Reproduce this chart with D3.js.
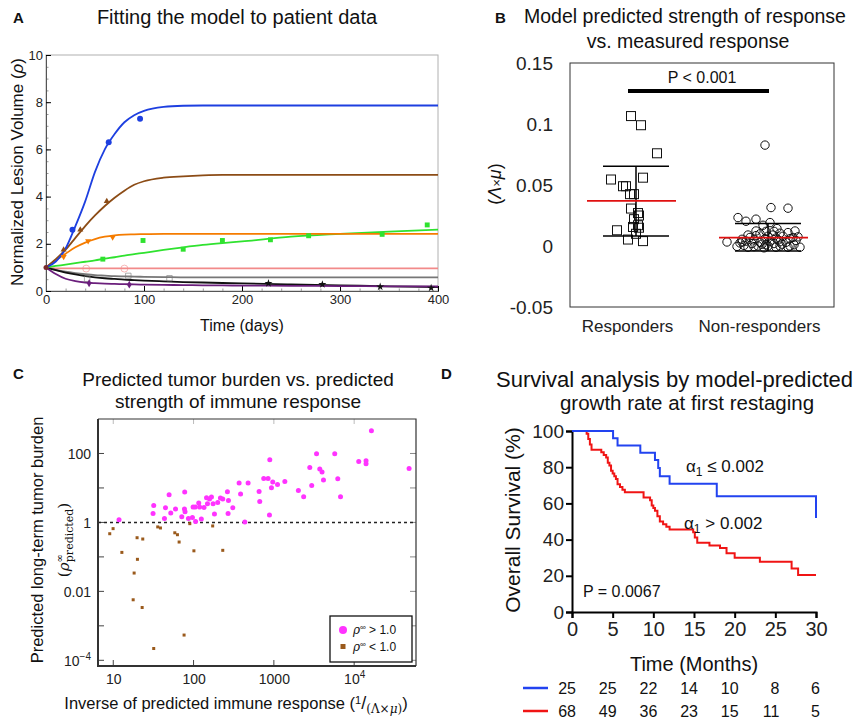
<!DOCTYPE html>
<html>
<head>
<meta charset="utf-8">
<title>Model fit figure</title>
<style>
  body { margin: 0; background: #fff; }
  svg { font-family: "Liberation Sans", Arial, sans-serif; }
  .tick text { fill: #222; }
</style>
</head>
<body>
<script src="https://d3js.org/d3.v7.min.js"></script>
<script>
'use strict';

// ---------- A: fits and patient data ----------
const days = [0, 10, 20, 30, 40, 50, 60, 70, 80, 90, 100, 120, 140, 160, 180, 200, 250, 300, 350, 400];
const fitBlue   = [1, 1.25, 1.8, 2.75, 3.8, 5.05, 6.0, 6.65, 7.15, 7.45, 7.63, 7.8, 7.85, 7.86, 7.86, 7.86, 7.86, 7.86, 7.86, 7.86];
const fitBrown  = [1, 1.35, 1.75, 2.25, 2.75, 3.2, 3.6, 3.95, 4.25, 4.5, 4.65, 4.8, 4.86, 4.9, 4.92, 4.92, 4.92, 4.92, 4.92, 4.92];
const fitOrange = [1, 1.3, 1.58, 1.85, 2.05, 2.2, 2.3, 2.36, 2.39, 2.4, 2.41, 2.42, 2.42, 2.42, 2.42, 2.42, 2.42, 2.42, 2.42, 2.42];
const fitGreen  = [1, 1.06, 1.12, 1.18, 1.24, 1.3, 1.37, 1.43, 1.5, 1.56, 1.62, 1.74, 1.85, 1.95, 2.03, 2.1, 2.3, 2.42, 2.52, 2.6];
const fitPink   = [1, 0.96, 0.96, 0.96, 0.96, 0.96, 0.96, 0.96, 0.96, 0.96, 0.96, 0.96, 0.96, 0.96, 0.96, 0.96, 0.96, 0.96, 0.96, 0.96];
const fitGray   = [1, 0.9, 0.82, 0.76, 0.71, 0.67, 0.65, 0.63, 0.62, 0.61, 0.6, 0.59, 0.58, 0.58, 0.58, 0.58, 0.58, 0.58, 0.58, 0.58];
const fitBlack  = [1, 0.88, 0.78, 0.7, 0.63, 0.58, 0.54, 0.51, 0.48, 0.46, 0.44, 0.41, 0.38, 0.36, 0.34, 0.32, 0.28, 0.24, 0.2, 0.17];
const fitPurple = [1, 0.72, 0.52, 0.42, 0.36, 0.33, 0.31, 0.3, 0.29, 0.28, 0.27, 0.26, 0.25, 0.24, 0.235, 0.23, 0.22, 0.21, 0.2, 0.19];

const ptsBlue   = [[27, 2.6], [64, 6.3], [96, 7.3]];
const ptsBrown  = [[18, 1.75], [35, 2.6], [62, 3.8]];
const ptsOrange = [[18, 1.45], [43, 2.12], [68, 2.28]];
const ptsGreen  = [[58, 1.35], [99, 2.14], [140, 1.77], [180, 2.14], [229, 2.17], [268, 2.34], [343, 2.4], [389, 2.8]];
const ptsPink   = [[41, 0.95], [80, 0.95]];
const ptsGray   = [[42, 0.52], [84, 0.64], [126, 0.54]];
const ptsBlack  = [[227, 0.33], [282, 0.28], [341, 0.18], [393, 0.13]];
const ptsPurple = [[44, 0.33], [85, 0.27]];

const ticksDays = [0, 100, 200, 300, 400];
const ticksVolume = [0, 2, 4, 6, 8, 10];

// ---------- B: strength of response ----------
const groupsB = ['Responders', 'Non-responders'];
const respValues = [0.1065, 0.099, 0.076, 0.0545, 0.056, 0.049, 0.049, 0.0425, 0.0425, 0.0307,
  0.027, 0.025, 0.022, 0.017, 0.0156, 0.015, 0.0129, 0.010, 0.0053, 0.004];
const respJitter = [-5, 5, 21, -25, 7, -13, -10, -6, -2, -5, 2, 3, -2, 2, -3, 3, -19, 0, -8, 7];
const nonValues = [0.0827, 0.0315, 0.031, 0.0233, 0.0203, 0.022, 0.0192, 0.017, 0.0143, 0.0123,
  0.0123, 0.0033, -0.0003, 0.0033, 0.010, 0.009, 0.008, 0.007, 0.006, 0.006,
  0.005, 0.005, 0.004, 0.004, 0.003, 0.003, 0.002, 0.002, 0.001, 0.001,
  0.0005, 0.0, 0.0, 0.0, -0.001, -0.001, -0.001, -0.0015, 0.011, 0.012,
  0.009, 0.007, 0.0085, 0.0065, 0.0045, 0.0025, 0.0015, -0.0005, 0.0105, 0.008,
  0.0035, 0.0015, 0.0055, -0.001, 0.012, 0.0075, 0.0];
const nonJitter = [-3, 3, 20, -30, -22, -12, 2, -5, 9, 27,
  -12, -41, -31, -26, -8, 5, 15, -18, -3, 22,
  -14, 10, -22, 2, -8, 18, -16, 6, -2, 26,
  -24, -10, 12, 0, -20, 8, 20, -4, 20, -2,
  -20, 25, -12, 8, 28, -28, 14, -14, 12, 0,
  12, -6, -26, 32, 6, 30, 22];
const meanB = [0.037, 0.0069];
const sdLowB = [0.0082, -0.004];
const sdHighB = [0.0654, 0.0184];
const ticksB = [-0.05, 0, 0.05, 0.1, 0.15];
const pBarLevel = 0.127;

// ---------- C: tumour burden vs immune response ----------
const aboveOne = [[11.8, 1.2], [31.9, 3.1], [31.3, 1.8], [44.7, 2.67], [49.6, 6.35], [43.4, 1.3], [52, 1.87],
  [59.6, 2.44], [77.6, 7.6], [77, 2.44], [78.3, 2.04], [71.3, 1.46], [86.3, 1.3], [96.8, 1.4], [98.6, 2.8],
  [106, 1.07], [116, 3.65], [105, 2.8], [119, 2.8], [125, 1.26], [135, 2.72], [145, 5.2], [149, 3.5],
  [158, 4.77], [167, 5.45], [175, 3.5], [182, 1.75], [200, 3.8], [216, 5.1], [231, 4.77], [264, 7.75],
  [272, 4.35], [269, 1.8], [308, 2.67], [369, 13.9], [385, 6.65], [435, 1.02], [478, 13.9], [655, 7.9],
  [667, 4.06], [16400, 455], [3400, 98], [5730, 98], [890, 65.6], [11400, 58.6], [14060, 61.4],
  [14060, 50.3], [48300, 36.7], [2800, 39.3], [3730, 35.3], [3980, 28.9], [4150, 16.9], [2960, 11.8],
  [6250, 18.5], [6760, 5.56], [2020, 8.47], [2350, 5.56], [1370, 15.4], [1110, 12.6], [968, 14.8],
  [933, 10.1], [881, 1.64], [847, 18.8], [748, 18.8]];
const belowOne = [[9.04, 0.47], [9.95, 0.66], [12.8, 0.135], [19.8, 0.36], [23.3, 0.33], [20, 0.085],
  [35.8, 0.74], [38.7, 0.69], [58.4, 0.5], [63, 0.44], [66.1, 0.27], [89.8, 0.92], [101, 0.15],
  [173, 0.79], [231, 0.155], [18.2, 0.034], [17.7, 0.0057], [22.9, 0.0034], [76.2, 5.4e-4], [31.9, 2.2e-4]];
const ticksCx = [10, 100, 1000, 10000];
const ticksCy = [1e-4, 0.01, 1, 100];

// ---------- D: Kaplan-Meier ----------
const kmBlueT = [0, 5.05, 5.6, 8.4, 10.2, 10.6, 10.8, 12.0, 17.8, 30];
const kmBlueS = [100, 96, 92, 88, 84, 79.5, 75, 70.8, 64, 52];
const kmRedT = [0, 1.8, 2.0, 2.2, 2.4, 3.6, 3.9, 4.2, 4.4, 4.6, 4.8, 5.0, 5.2, 5.4, 5.6, 5.9, 6.2, 6.5, 8.8, 9.6,
  9.8, 10.0, 10.2, 10.5, 10.8, 11.2, 11.6, 12.0, 14.9, 15.1, 15.4, 16.9, 18.2, 19.0, 20.0, 23.1, 27.0, 27.8, 30];
const kmRedS = [100, 98.5, 95.6, 92.6, 89.7, 88.2, 86.8, 85.3, 82.4, 80.9, 78.0, 76.5, 75.0, 73.5, 70.6, 69.1, 67.6, 66.2, 63.2, 61.8,
  58.8, 57.4, 55.9, 52.9, 50.0, 48.5, 47.1, 45.6, 44.1, 41.2, 38.2, 36.8, 35.3, 32.4, 30.0, 27.8, 24.0, 20.5, 20.5];
const riskTimes = [0, 5, 10, 15, 20, 25, 30];
const riskBlue = [25, 25, 22, 14, 10, 8, 6];
const riskRed = [68, 49, 36, 23, 15, 11, 5];
const ticksMonths = [0, 5, 10, 15, 20, 25, 30];
const ticksSurv = [0, 20, 40, 60, 80, 100];

const svg = d3.select('body').append('svg')
  .attr('width', 854).attr('height', 719);
svg.append('rect').attr('width', 854).attr('height', 719).attr('fill', '#fff');

function label(x, y, txt, size, opts) {
  opts = opts || {};
  return svg.append('text')
    .attr('x', x).attr('y', y)
    .attr('text-anchor', opts.anchor || 'middle')
    .attr('font-size', size)
    .attr('font-weight', opts.bold ? 'bold' : null)
    .attr('fill', '#111')
    .text(txt);
}

// ================= Panel A =================
const xA = d3.scaleLinear().domain([0, 400]).range([46, 438]);
const yA = d3.scaleLinear().domain([0, 10]).range([291, 55]);
const gA = svg.append('g');

gA.append('rect').attr('x', 46).attr('y', 55).attr('width', 392).attr('height', 236)
  .attr('fill', 'none').attr('stroke', '#b0b0b0');

gA.append('g').attr('transform', 'translate(0,291)')
  .call(d3.axisBottom(xA).tickValues(d3.range(0, 401, 20)).tickSize(-2.5).tickFormat(''))
  .call(g => g.selectAll('line').attr('stroke', '#999'));
gA.append('g').attr('transform', 'translate(46,0)')
  .call(d3.axisLeft(yA).tickValues(d3.range(0, 10.01, 0.5)).tickSize(-2.5).tickFormat(''))
  .call(g => g.selectAll('line').attr('stroke', '#999'));
gA.append('g').attr('transform', 'translate(0,291)')
  .call(d3.axisBottom(xA).tickValues(ticksDays).tickSize(-5).tickPadding(4))
  .call(g => g.selectAll('text').attr('font-size', 13).attr('font-family', null))
  .call(g => g.select('.domain').attr('stroke', '#555'));
gA.append('g').attr('transform', 'translate(46,0)')
  .call(d3.axisLeft(yA).tickValues(ticksVolume).tickSize(-5).tickPadding(3))
  .call(g => g.selectAll('text').attr('font-size', 13).attr('font-family', null))
  .call(g => g.select('.domain').attr('stroke', '#555'));

const patientsA = [
  { fit: fitPink,   pts: ptsPink,   color: '#f28a8a', sym: d3.symbolCircle,   size: 38, open: true },
  { fit: fitGray,   pts: ptsGray,   color: '#777',    sym: d3.symbolSquare,   size: 30, open: true },
  { fit: fitBlack,  pts: ptsBlack,  color: '#111',    sym: d3.symbolStar,     size: 20 },
  { fit: fitPurple, pts: ptsPurple, color: '#6b1f7c', sym: d3.symbolDiamond,  size: 18 },
  { fit: fitGreen,  pts: ptsGreen,  color: '#2fe22f', sym: d3.symbolSquare,   size: 24 },
  { fit: fitOrange, pts: ptsOrange, color: '#f57c00', sym: d3.symbolTriangle, size: 16, flip: true },
  { fit: fitBrown,  pts: ptsBrown,  color: '#8c4c16', sym: d3.symbolTriangle, size: 16 },
  { fit: fitBlue,   pts: ptsBlue,   color: '#1d3fe0', sym: d3.symbolCircle,   size: 28 }
];

const lineA = d3.line().x(d => xA(d[0])).y(d => yA(d[1])).curve(d3.curveMonotoneX);
patientsA.forEach(p => {
  gA.append('path')
    .datum(days.map((t, i) => [t, p.fit[i]]))
    .attr('d', lineA).attr('fill', 'none')
    .attr('stroke', p.color).attr('stroke-width', 1.8);
});
patientsA.forEach(p => {
  gA.selectAll(null).data(p.pts).enter().append('path')
    .attr('d', d3.symbol().type(p.sym).size(p.size))
    .attr('transform', d => 'translate(' + xA(d[0]) + ',' + yA(d[1]) + ')' + (p.flip ? ' rotate(180)' : ''))
    .attr('fill', p.open ? 'none' : p.color)
    .attr('stroke', p.open ? p.color : 'none')
    .attr('stroke-opacity', p.open ? 0.6 : 1);
});
gA.append('circle').attr('cx', xA(0)).attr('cy', yA(1)).attr('r', 2.5).attr('fill', '#7a2b2b');

label(13, 23, 'A', 15, { anchor: 'start', bold: true });
label(237, 24, 'Fitting the model to patient data', 20);
label(242, 331, 'Time (days)', 16);
const ylabA = svg.append('text').attr('transform', 'translate(23,172) rotate(-90)')
  .attr('text-anchor', 'middle').attr('font-size', 17).attr('fill', '#111');
ylabA.append('tspan').text('Normalized Lesion Volume (');
ylabA.append('tspan').attr('font-style', 'italic').text('ρ');
ylabA.append('tspan').text(')');

// ================= Panel B =================
const xB = d3.scalePoint().domain(groupsB).range([636, 768]);
const yB = d3.scaleLinear().domain([-0.05, 0.15]).range([307, 63]);
const gB = svg.append('g');

gB.append('rect').attr('x', 570).attr('y', 63).attr('width', 264).attr('height', 244)
  .attr('fill', 'none').attr('stroke', '#333').attr('stroke-width', 1);
gB.append('g').attr('transform', 'translate(570,0)')
  .call(d3.axisLeft(yB).tickValues(ticksB).tickSize(0).tickPadding(17)
    .tickFormat(d => d === 0 ? '0' : String(+d.toFixed(2))))
  .call(g => g.select('.domain').remove())
  .call(g => g.selectAll('text').attr('font-size', 19).attr('font-family', null));
gB.append('g').attr('transform', 'translate(-9,307)')
  .call(d3.axisBottom(xB).tickSize(0).tickPadding(13))
  .call(g => g.select('.domain').remove())
  .call(g => g.selectAll('text').attr('font-size', 17).attr('font-family', null));

// significance bar
gB.append('line').attr('x1', 628).attr('x2', 769).attr('y1', yB(pBarLevel)).attr('y2', yB(pBarLevel))
  .attr('stroke', '#000').attr('stroke-width', 4);
label(702, 83, 'P < 0.001', 16);

// points
gB.selectAll(null).data(respValues).enter().append('rect')
  .attr('x', (d, i) => xB('Responders') + respJitter[i] - 4.5)
  .attr('y', d => yB(d) - 4.5)
  .attr('width', 9).attr('height', 9)
  .attr('fill', 'none').attr('stroke', '#111').attr('stroke-width', 1);
gB.selectAll(null).data(nonValues).enter().append('circle')
  .attr('cx', (d, i) => xB('Non-responders') + nonJitter[i])
  .attr('cy', d => yB(d)).attr('r', 4.2)
  .attr('fill', 'none').attr('stroke', '#111').attr('stroke-width', 1);

// mean and SD bars
groupsB.forEach((gname, i) => {
  const cx = xB(gname);
  gB.append('line').attr('x1', cx).attr('x2', cx).attr('y1', yB(sdHighB[i])).attr('y2', yB(sdLowB[i]))
    .attr('stroke', '#000').attr('stroke-width', 1.5);
  [sdHighB[i], sdLowB[i]].forEach(v => {
    gB.append('line').attr('x1', cx - 33).attr('x2', cx + 33).attr('y1', yB(v)).attr('y2', yB(v))
      .attr('stroke', '#000').attr('stroke-width', 1.5);
  });
  gB.append('line').attr('x1', cx - 49).attr('x2', cx + 40).attr('y1', yB(meanB[i])).attr('y2', yB(meanB[i]))
    .attr('stroke', '#e01010').attr('stroke-width', 1.8);
});

label(495, 23, 'B', 15, { anchor: 'start', bold: true });
label(685, 23, 'Model predicted strength of response', 19.5);
label(688, 48, 'vs. measured response', 19.5);
const ylabB = svg.append('text').attr('transform', 'translate(501,184) rotate(-90)')
  .attr('text-anchor', 'middle').attr('font-size', 18).attr('fill', '#111');
ylabB.append('tspan').text('(');
ylabB.append('tspan').attr('font-style', 'italic').text('Λ');
ylabB.append('tspan').attr('font-size', 13).text('×');
ylabB.append('tspan').attr('font-style', 'italic').text('μ');
ylabB.append('tspan').text(')');

// ================= Panel C =================
const xC = d3.scaleLog().domain([Math.pow(10, 0.81), Math.pow(10, 4.77)]).range([98, 416]);
const yC = d3.scaleLog().domain([Math.pow(10, -4.165), 1000]).range([666, 419]);
const gC = svg.append('g');

const decadesX = [10, 100, 1000, 10000];
const decadesY = [1e-4, 1e-3, 0.01, 0.1, 1, 10, 100];
gC.selectAll(null).data(decadesY).enter().append('line')
  .attr('x1', 98).attr('x2', 104).attr('y1', d => yC(d)).attr('y2', d => yC(d)).attr('stroke', '#444');
gC.selectAll(null).data(decadesY).enter().append('line')
  .attr('x1', 416).attr('x2', 410).attr('y1', d => yC(d)).attr('y2', d => yC(d)).attr('stroke', '#888');
gC.selectAll(null).data(decadesX).enter().append('line')
  .attr('x1', d => xC(d)).attr('x2', d => xC(d)).attr('y1', 666).attr('y2', 660).attr('stroke', '#444');
gC.selectAll(null).data(decadesX).enter().append('line')
  .attr('x1', d => xC(d)).attr('x2', d => xC(d)).attr('y1', 419).attr('y2', 424).attr('stroke', '#bbb');

gC.append('g').attr('transform', 'translate(0,666)')
  .call(d3.axisBottom(xC).tickValues(ticksCx).tickSize(0).tickPadding(9).tickFormat(''))
  .call(g => g.select('.domain').remove())
  .call(g => g.selectAll('.tick').each(function (d) {
    const t = d3.select(this).append('text').attr('y', 18).attr('text-anchor', 'middle')
      .attr('font-size', 14).attr('fill', '#222');
    if (d === 10000) { t.append('tspan').text('10'); t.append('tspan').attr('dy', -6).attr('font-size', 10).text('4'); }
    else t.text(d3.format('d')(d));
  }));
gC.append('g').attr('transform', 'translate(98,0)')
  .call(d3.axisLeft(yC).tickValues(ticksCy).tickSize(0).tickFormat(''))
  .call(g => g.select('.domain').remove())
  .call(g => g.selectAll('.tick').each(function (d) {
    const t = d3.select(this).append('text').attr('x', -7).attr('dy', '0.35em').attr('text-anchor', 'end')
      .attr('font-size', 14).attr('fill', '#222');
    if (d === 1e-4) { t.append('tspan').text('10'); t.append('tspan').attr('dy', -6).attr('font-size', 10).text('−4'); }
    else t.text(d === 0.01 ? '0.01' : d3.format('d')(d));
  }));

gC.append('line').attr('x1', 98).attr('x2', 416).attr('y1', yC(1)).attr('y2', yC(1))
  .attr('stroke', '#222').attr('stroke-width', 1.5).attr('stroke-dasharray', '3,3');

gC.selectAll(null).data(aboveOne).enter().append('circle')
  .attr('cx', d => xC(d[0])).attr('cy', d => yC(d[1])).attr('r', 2.5).attr('fill', '#ff33ff');
gC.selectAll(null).data(belowOne).enter().append('rect')
  .attr('x', d => xC(d[0]) - 1.5).attr('y', d => yC(d[1]) - 1.5)
  .attr('width', 3).attr('height', 3).attr('fill', '#9a5a1c');

gC.append('path').attr('d', 'M98,419V666H416').attr('fill', 'none').attr('stroke', '#333').attr('stroke-width', 2);
gC.append('path').attr('d', 'M98,419H416V666').attr('fill', 'none').attr('stroke', '#333').attr('stroke-width', 1.2);

// legend
gC.append('rect').attr('x', 330).attr('y', 616).attr('width', 82).attr('height', 46)
  .attr('fill', '#fff').attr('stroke', '#111').attr('stroke-width', 1.3);
gC.append('circle').attr('cx', 343).attr('cy', 630).attr('r', 4).attr('fill', '#ff33ff');
gC.append('rect').attr('x', 340.5).attr('y', 644).attr('width', 5).attr('height', 5).attr('fill', '#9a5a1c');
[['>', 634], ['<', 651]].forEach(e => {
  const t = gC.append('text').attr('x', 353).attr('y', e[1]).attr('font-size', 12).attr('fill', '#111');
  t.append('tspan').attr('font-style', 'italic').attr('font-family', 'DejaVu Serif').text('ρ');
  t.append('tspan').attr('dy', -4).attr('font-size', 8).text('∞');
  t.append('tspan').attr('dy', 4).text(' ' + e[0] + ' 1.0');
});

label(13, 379, 'C', 15, { anchor: 'start', bold: true });
label(238, 386, 'Predicted tumor burden vs. predicted', 19);
label(238, 408, 'strength of immune response', 19);
label(37, 540, 'Predicted long-term tumor burden', 16.5).attr('transform', 'rotate(-90,37,540)').attr('dy', '0.35em');
const ylabC = svg.append('text').attr('transform', 'translate(64,540) rotate(-90)')
  .attr('text-anchor', 'middle').attr('font-size', 15).attr('fill', '#111')
  .attr('font-family', 'DejaVu Serif').attr('dy', '0.35em');
ylabC.append('tspan').text('(');
ylabC.append('tspan').attr('font-style', 'italic').text('ρ');
ylabC.append('tspan').attr('dy', -6).attr('font-size', 10).text('∞');
ylabC.append('tspan').attr('dx', -8).attr('dy', 10).attr('font-size', 11).text('predicted');
ylabC.append('tspan').attr('dy', -4).text(')');
const xlabC = svg.append('text').attr('x', 236).attr('y', 709)
  .attr('text-anchor', 'middle').attr('font-size', 16.5).attr('fill', '#111');
xlabC.append('tspan').text('Inverse of predicted immune response (');
xlabC.append('tspan').attr('dy', -5).attr('font-size', 11).text('1');
xlabC.append('tspan').attr('dy', 5).attr('font-size', 18).text('/');
xlabC.append('tspan').attr('dy', 4).attr('font-size', 12).attr('font-family', 'DejaVu Serif').text('(Λ×');
xlabC.append('tspan').attr('font-size', 12).attr('font-style', 'italic').attr('font-family', 'DejaVu Serif').text('μ');
xlabC.append('tspan').attr('font-size', 12).attr('font-family', 'DejaVu Serif').text(')');
xlabC.append('tspan').attr('dy', -4).text(')');

// ================= Panel D =================
const xD = d3.scaleLinear().domain([0, 30]).range([572, 816]);
const yD = d3.scaleLinear().domain([0, 100]).range([612, 431]);
const gD = svg.append('g');

gD.append('g').attr('transform', 'translate(0,612)')
  .call(d3.axisBottom(xD).tickValues(ticksMonths).tickSize(6).tickPadding(4))
  .call(g => g.selectAll('text').attr('font-size', 20).attr('font-family', null))
  .call(g => g.selectAll('line,.domain').attr('stroke', '#000').attr('stroke-width', 2));
gD.append('g').attr('transform', 'translate(572,0)')
  .call(d3.axisLeft(yD).tickValues(ticksSurv).tickSize(6).tickPadding(2))
  .call(g => g.selectAll('text').attr('font-size', 19).attr('font-family', null))
  .call(g => g.selectAll('line,.domain').attr('stroke', '#000').attr('stroke-width', 2));

const lineD = d3.line().x(d => xD(d[0])).y(d => yD(d[1])).curve(d3.curveStepAfter);
gD.append('path').datum(kmRedT.map((t, i) => [t, kmRedS[i]]))
  .attr('d', lineD).attr('fill', 'none').attr('stroke', '#f01414').attr('stroke-width', 2);
gD.append('path').datum(kmBlueT.map((t, i) => [t, kmBlueS[i]]))
  .attr('d', lineD).attr('fill', 'none').attr('stroke', '#2243f0').attr('stroke-width', 2);

function alphaLabel(x, y, rest) {
  const t = svg.append('text').attr('x', x).attr('y', y).attr('font-size', 17).attr('fill', '#111');
  t.append('tspan').text('α');
  t.append('tspan').attr('dy', 4).attr('font-size', 12).text('1');
  t.append('tspan').attr('dy', -4).text(rest);
}
alphaLabel(686, 472, ' ≤ 0.002');
alphaLabel(684, 529, ' > 0.002');
label(583, 597, 'P = 0.0067', 16, { anchor: 'start' });

label(441, 379, 'D', 15, { anchor: 'start', bold: true });
label(496, 387, 'Survival analysis by model-predicted', 22, { anchor: 'start' });
label(687, 410, 'growth rate at first restaging', 20.5);
label(694, 671, 'Time (Months)', 20);
label(513, 520, 'Overall Survival (%)', 21).attr('transform', 'rotate(-90,513,520)').attr('dy', '0.35em');

// risk table
[[riskBlue, 688, '#2243f0'], [riskRed, 711, '#f01414']].forEach(r => {
  gD.append('line').attr('x1', 523).attr('x2', 548).attr('y1', r[1]).attr('y2', r[1])
    .attr('stroke', r[2]).attr('stroke-width', 2.5);
  gD.selectAll(null).data(r[0]).enter().append('text')
    .attr('x', (d, i) => xD(riskTimes[i]) + 4).attr('y', r[1] + 6)
    .attr('text-anchor', 'end').attr('font-size', 16).attr('fill', '#111')
    .text(d => d);
});
</script>
</body>
</html>
